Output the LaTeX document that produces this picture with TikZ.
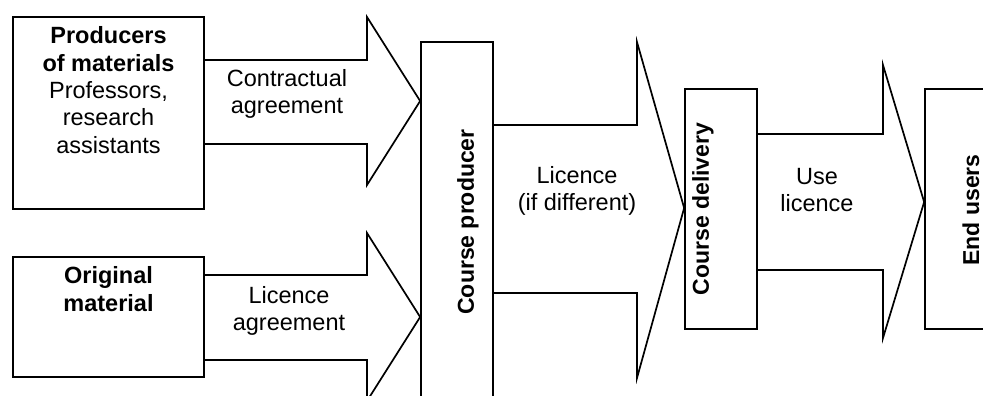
\documentclass[tikz,border=0pt]{standalone}
\usepackage{fontspec}
\setmainfont{Liberation Sans}
\usetikzlibrary{calc}
\begin{document}
\begin{tikzpicture}[x=1pt,y=-1pt,
  box/.style={draw,line width=1.7pt,minimum width=#1,inner sep=0pt,anchor=center},
  lbl/.style={align=center,inner sep=0pt,font=\fontsize{23.5}{26.5}\selectfont},
  vlbl/.style={rotate=90,inner sep=0pt,font=\fontsize{23}{27}\selectfont\bfseries},
  flow/.style={draw,line width=1.7pt,line join=miter}]
\useasboundingbox (0,0) rectangle (983,396);
\clip (0,0) rectangle (983,396);

% boxes
\node[box=191pt,minimum height=192pt] (prod) at (108.5,113) {};
\node[box=191pt,minimum height=120pt] (orig) at (108.5,317) {};
\node[box=72pt,minimum height=378pt]  (cp)   at (457,231) {};
\node[box=72pt,minimum height=240pt]  (cd)   at (721,209) {};
\node[box=85pt,minimum height=240pt]  (eu)   at (967.5,209) {};

% box texts
\node[lbl,font=\fontsize{23.5}{27.3}\selectfont] (prodtxt) at (108.5,90) {\bfseries Producers\\ \bfseries of materials\\ Professors,\\ research\\ assistants};
\node[lbl,font=\fontsize{23.5}{27.3}\selectfont\bfseries] (origtxt) at (108.5,289) {Original\\ material};
\node[vlbl] (cptxt) at (468,222) {Course producer};
\node[vlbl] (cdtxt) at (703,209) {Course delivery};
\node[vlbl] (eutxt) at (971,210) {End users};

% block arrows
\draw[flow] (prod.east |- 0,60) -- (367,60) -- (367,17) -- (cp.west |- 0,101)
  -- (367,185) -- (367,144) -- (prod.east |- 0,144);
\draw[flow] (orig.east |- 0,275) -- (367,275) -- (367,233) -- (cp.west |- 0,317)
  -- (367,401) -- (367,360) -- (orig.east |- 0,360);
\draw[flow] (cp.east |- 0,125) -- (637,125) -- (637,42) -- (cd.west |- 0,208)
  -- (637,378) -- (637,293) -- (cp.east |- 0,293);
\draw[flow] (cd.east |- 0,134) -- (883,134) -- (883,65) -- (eu.west |- 0,202)
  -- (883,338) -- (883,270) -- (cd.east |- 0,270);

% arrow labels
\node[lbl] (a1) at (287,94) {Contractual\\ agreement};
\node[lbl] (a2) at (289,311) {Licence\\ agreement};
\node[lbl] (a3) at (577,191) {Licence\\ (if different)};
\node[lbl] (a4) at (817,190) {Use\\ licence};
\end{tikzpicture}
\end{document}
